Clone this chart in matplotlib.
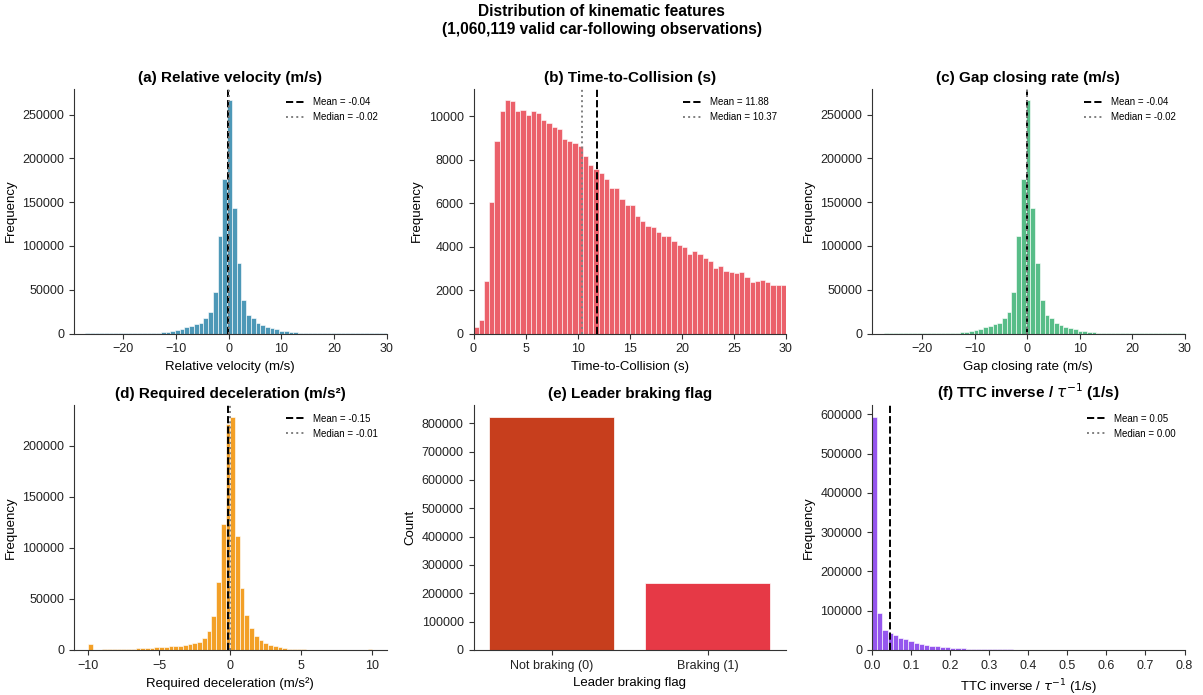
import numpy as np
import matplotlib
matplotlib.use("Agg")
import matplotlib.pyplot as plt
from matplotlib.lines import Line2D

plt.rcParams['font.family'] = ['Liberation Sans', 'DejaVu Sans']
plt.rcParams['axes.edgecolor'] = '#333333'
plt.rcParams['xtick.color'] = '#333333'
plt.rcParams['ytick.color'] = '#333333'
plt.rcParams['xtick.labelcolor'] = '#222222'
plt.rcParams['ytick.labelcolor'] = '#222222'
plt.rcParams['mathtext.fontset'] = 'dejavusans'

# ---------------- data ----------------
# (a) Relative velocity: bins of width 0.9 starting at -27.3
rel_vel_left = [176300, 111500, 47000, 24600, 17200, 12000, 11000, 8800, 7400, 5600,
                4200, 3300, 2200, 1500, 1000, 700, 500, 350, 250, 180,
                130, 100, 80, 60, 50, 40, 30, 25, 20, 15]          # outward from -0.3
rel_vel_center = [266400]
rel_vel_right = [142800, 80200, 38200, 21400, 17200, 11500, 10000, 7500, 6000, 4600,
                 3400, 2700, 1900, 1400, 1000, 700, 500, 350, 250, 180,
                 130, 100, 80, 60, 50, 40, 30, 25, 20, 15, 10, 10, 5]  # outward from 0.6
rel_vel_counts = rel_vel_left[::-1] + rel_vel_center + rel_vel_right
rel_vel_mean, rel_vel_median = -0.04, -0.02

# (c) Gap closing rate (same distribution as relative velocity)
gap_counts = list(rel_vel_counts)
gap_mean, gap_median = -0.04, -0.02

# (b) Time-to-collision: 60 bins over [0, 30]
ttc_counts = [308, 615, 2415, 6046, 8860, 10230, 10740, 10720, 10230, 10310,
              10060, 10250, 10150, 9846, 9692, 9508, 9415, 8954, 8877, 8790,
              8640, 8185, 7760, 7580, 7380, 7130, 6685, 6715, 6185, 5923,
              5923, 5415, 5185, 4969, 4908, 4677, 4508, 4477, 4262, 4092,
              3969, 3677, 3800, 3646, 3462, 3354, 3000, 3092, 2877, 2815,
              2800, 2831, 2615, 2369, 2415, 2446, 2385, 2215, 2231, 2215]
ttc_mean, ttc_median = 11.88, 10.37

# (d) Required deceleration: 60 bins over [-10, 10]
decel_counts = [6300, 400, 450, 550, 650, 800, 900, 1100, 1200, 1400,
                1600, 1800, 2000, 2300, 2600, 2900, 3200, 3500, 3900, 4300,
                4900, 5600, 6500, 8200, 11500, 18300, 33400, 66100, 123400, 220900,
                228400, 111200, 60500, 34400, 21300, 13700, 9800, 7200, 4900, 3600,
                2600, 2000, 1300, 1000, 650, 500, 350, 250, 180, 130,
                100, 80, 60, 50, 40, 30, 25, 20, 15, 600]
decel_mean, decel_median = -0.15, -0.01

# (e) Leader braking flag
brake_labels = ['Not braking (0)', 'Braking (1)']
brake_counts = [823000, 237119]

# (f) TTC inverse: 60 bins over [0, 0.8]
inv_counts = [594000, 93600, 51000, 43500, 37400, 31500, 27200, 23800, 17900, 15300,
              12800, 11100, 9400, 8500, 6800, 6000, 5100, 4300, 3800, 3300,
              2900, 2500, 2200, 1900, 1700, 1500, 1300, 1100, 1000, 900,
              800, 700, 600, 500, 450, 400, 350, 300, 270, 240,
              210, 190, 170, 150, 130, 120, 110, 100, 90, 80,
              70, 60, 55, 50, 45, 40, 35, 30, 25, 20]
inv_mean, inv_median = 0.047, 0.0

# ---------------- figure ----------------
W, H = 1203, 695
fig = plt.figure(figsize=(W / 100, H / 100), dpi=100)

col_left = [74, 473.5, 872]
ax_w = 312.5
row_top = [88.5, 405]
ax_h = 245

def make_ax(r, c):
    l = col_left[c] / W
    b = 1 - (row_top[r] + ax_h) / H
    return fig.add_axes([l, b, ax_w / W, ax_h / H])

TICK_FS = 9
LABEL_FS = 9.5
TITLE_FS = 11
LEG_FS = 7

def style(ax):
    ax.spines['top'].set_visible(False)
    ax.spines['right'].set_visible(False)
    ax.tick_params(labelsize=TICK_FS, length=3.5, width=0.8)

def hist_panel(ax, counts, start, width, color, alpha, mean, median, title, xlabel):
    edges = start + width * np.arange(len(counts) + 1)
    centers = (edges[:-1] + edges[1:]) / 2
    ax.hist(centers, bins=edges, weights=counts, color=color, alpha=alpha,
            edgecolor='white', linewidth=0.5)
    ax.axvline(mean, color='black', linestyle='--', linewidth=1.4)
    ax.axvline(median, color='gray', linestyle=':', linewidth=1.4)
    handles = [Line2D([], [], color='black', linestyle='--', linewidth=1.4),
               Line2D([], [], color='gray', linestyle=':', linewidth=1.4)]
    ax.legend(handles, [f'Mean = {mean:.2f}', f'Median = {median:.2f}'],
              loc='upper right', fontsize=LEG_FS, frameon=False)
    ax.set_title(title, fontsize=TITLE_FS, fontweight='bold', pad=5)
    ax.set_xlabel(xlabel, fontsize=LABEL_FS)
    ax.set_ylabel('Frequency', fontsize=LABEL_FS)
    style(ax)

ax_a = make_ax(0, 0)
hist_panel(ax_a, rel_vel_counts, -27.3, 0.9, '#2E86AB', 0.85, rel_vel_mean, rel_vel_median,
           '(a) Relative velocity (m/s)', 'Relative velocity (m/s)')
ax_a.set_xlim(-29.4, 30)

ax_b = make_ax(0, 1)
hist_panel(ax_b, ttc_counts, 0.0, 0.5, '#E63946', 0.8, ttc_mean, ttc_median,
           '(b) Time-to-Collision (s)', 'Time-to-Collision (s)')
ax_b.set_xlim(0, 30)

ax_c = make_ax(0, 2)
hist_panel(ax_c, gap_counts, -27.3, 0.9, '#3BB273', 0.85, gap_mean, gap_median,
           '(c) Gap closing rate (m/s)', 'Gap closing rate (m/s)')
ax_c.set_xlim(-29.6, 30)

ax_d = make_ax(1, 0)
hist_panel(ax_d, decel_counts, -10.0, 20 / 60, '#F18F01', 0.85, decel_mean, decel_median,
           '(d) Required deceleration (m/s²)', 'Required deceleration (m/s²)')
ax_d.set_xlim(-11, 11)

ax_e = make_ax(1, 1)
x_e = np.arange(len(brake_labels))
ax_e.bar(x_e, brake_counts, width=0.8, color=['#C73E1D', '#E63946'],
         edgecolor='white', linewidth=0.5)
ax_e.set_xticks(x_e)
ax_e.set_xticklabels(brake_labels)
ax_e.set_xlim(-0.5, 1.5)
ax_e.set_title('(e) Leader braking flag', fontsize=TITLE_FS, fontweight='bold', pad=5)
ax_e.set_xlabel('Leader braking flag', fontsize=LABEL_FS)
ax_e.set_ylabel('Count', fontsize=LABEL_FS)
style(ax_e)

ax_f = make_ax(1, 2)
hist_panel(ax_f, inv_counts, 0.0, 0.8 / 60, '#8338EC', 0.85, inv_mean, inv_median,
           r'(f) TTC inverse / $\tau^{-1}$ (1/s)', r'TTC inverse / $\tau^{-1}$ (1/s)')
ax_f.set_xlim(0, 0.8)

fig.suptitle('Distribution of kinematic features\n(1,060,119 valid car-following observations)',
             fontsize=11.2, fontweight='bold', y=1 - 4.5 / H, va='top')

fig.savefig('out.png', dpi=100)
